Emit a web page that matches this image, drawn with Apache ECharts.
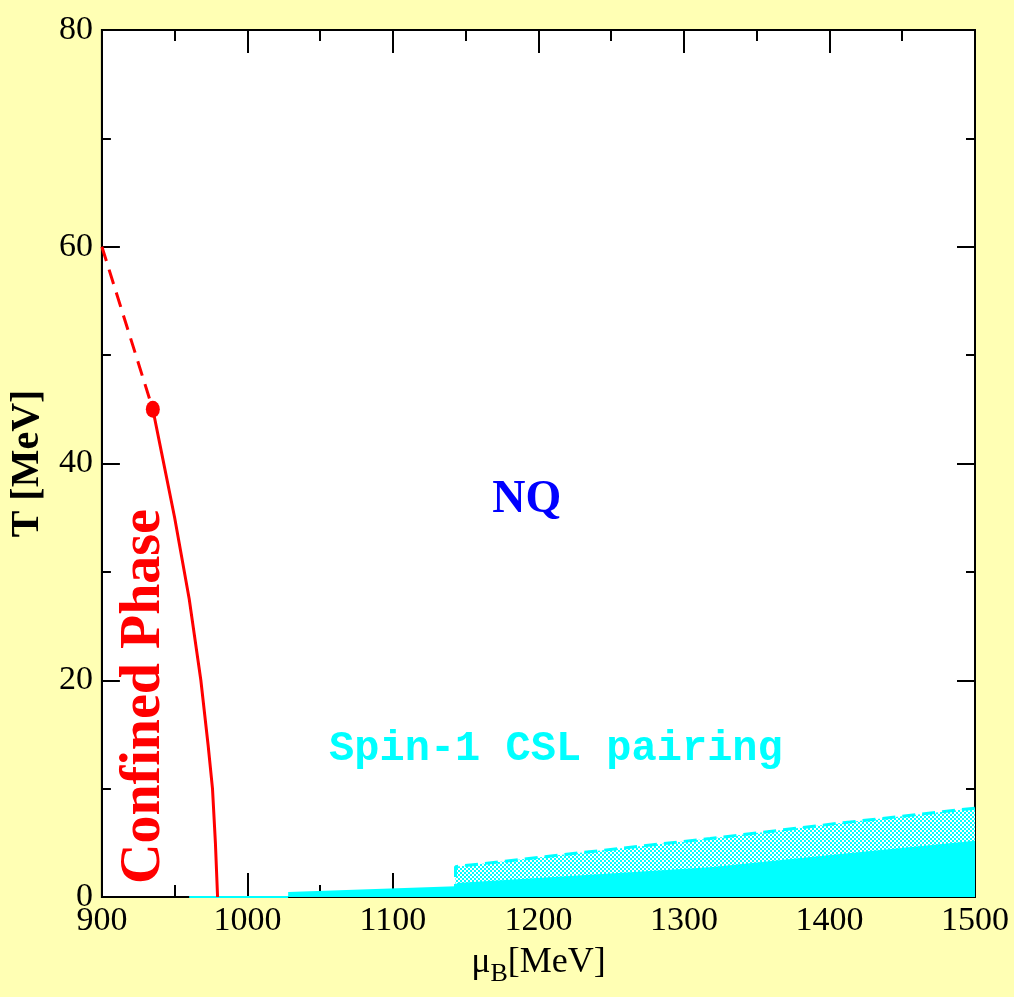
<!DOCTYPE html>
<html>
<head>
<meta charset="utf-8">
<script src="https://cdn.jsdelivr.net/npm/echarts@6/dist/echarts.min.js"></script>
<style>
  html, body { margin: 0; padding: 0; background: #ffffb4; }
  #chart { width: 1014px; height: 997px; }
</style>
</head>
<body>
<div id="chart"></div>
<script>
// axis ranges / ticks
var xMin = 900, xMax = 1500, xStep = 100;
var yMin = 0, yMax = 80, yStep = 20;

// deconfinement line: dashed part (crossover) and solid part (first order)
var redDashedMu = [900, 935];
var redDashedT  = [60, 45];
var redSolidMu  = [935, 941, 950, 960, 968, 973, 976, 978, 979.5];
var redSolidT   = [45, 41, 35, 27.5, 20, 14, 10, 5, 0];
var critPointMu = [935];
var critPointT  = [45];

// spin-1 CSL: thin line on the axis, filled region, dotted band
var cslLineMu = [960, 1028];
var cslLineT  = [0, 0];
var cslFillMu = [1028, 1028, 1143, 1144, 1230, 1318, 1406, 1500];
var cslFillT  = [0, 0.45, 1.0, 1.3, 2.0, 2.75, 3.95, 5.2];
var cslBandMu = [1143, 1143, 1230, 1318, 1406, 1500];
var cslBandT  = [0, 2.8, 4.1, 5.4, 6.8, 8.2];

// text labels in the plot
var notes = [
  { name: 'NQ', mu: 1192, T: 36.6 },
  { name: 'Spin-1 CSL pairing', mu: 1212, T: 13.6 },
  { name: 'Confined Phase', mu: 929, T: 18.5 }
];

function pairs(xs, ys) {
  return xs.map(function (x, i) { return [x, ys[i]]; });
}

// dotted fill pattern
var pat = document.createElement('canvas');
pat.width = 4; pat.height = 4;
var pctx = pat.getContext('2d');
pctx.fillStyle = '#ffffff';
pctx.fillRect(0, 0, 4, 4);
pctx.fillStyle = '#00ffff';
pctx.fillRect(0, 0, 2, 2);
pctx.fillRect(2, 2, 2, 2);

var cyan = '#00ffff';
var serif = 'Liberation Serif';

var noteStyles = {
  'NQ': { fontFamily: serif, fontWeight: 'bold', fontSize: 46, color: '#0000ff' },
  'Spin-1 CSL pairing': { fontFamily: 'Liberation Mono', fontWeight: 'bold', fontSize: 42, color: cyan },
  'Confined Phase': { fontFamily: serif, fontWeight: 'bold', fontSize: 56, color: '#ff0000', rotate: 90 }
};

var chart = echarts.init(document.getElementById('chart'));

var tickLab = { fontFamily: serif, fontSize: 34, color: '#000', formatter: function (v) { return String(v); } };

chart.setOption({
  backgroundColor: '#ffffb4',
  animation: false,
  grid: {
    left: 101, right: 39, top: 30, bottom: 100,
    show: true, backgroundColor: '#ffffff', borderColor: '#000', borderWidth: 2
  },
  xAxis: [{
    type: 'value', min: xMin, max: xMax, interval: xStep,
    name: '{m|μ}{s|B}{m|[MeV]}', nameLocation: 'middle', nameGap: 42,
    nameTextStyle: {
      rich: {
        m: { fontFamily: serif, fontSize: 36, color: '#000' },
        s: { fontFamily: serif, fontSize: 26, color: '#000', padding: [22, 0, 0, 0] }
      }
    },
    axisLine: { show: true, onZero: false, lineStyle: { color: '#000', width: 2 } },
    axisTick: { inside: true, length: 24, lineStyle: { color: '#000', width: 2 } },
    minorTick: { show: true, splitNumber: 2, length: 12, lineStyle: { color: '#000', width: 2 } },
    splitLine: { show: false },
    axisLabel: Object.assign({ margin: 7 }, tickLab)
  }, {
    type: 'value', position: 'top', min: xMin, max: xMax, interval: xStep,
    axisLine: { show: true, onZero: false, lineStyle: { color: '#000', width: 2 } },
    axisTick: { inside: true, length: 23, lineStyle: { color: '#000', width: 2 } },
    minorTick: { show: true, splitNumber: 2, length: 11, lineStyle: { color: '#000', width: 2 } },
    splitLine: { show: false },
    axisLabel: { show: false }
  }],
  yAxis: [{
    type: 'value', min: yMin, max: yMax, interval: yStep,
    name: 'T [MeV]', nameLocation: 'middle', nameGap: 48,
    nameTextStyle: { fontFamily: serif, fontWeight: 'bold', fontSize: 40, color: '#000' },
    axisLine: { show: true, onZero: false, lineStyle: { color: '#000', width: 2 } },
    axisTick: { inside: true, length: 18, lineStyle: { color: '#000', width: 2 } },
    minorTick: { show: true, splitNumber: 2, length: 9, lineStyle: { color: '#000', width: 2 } },
    splitLine: { show: false },
    axisLabel: Object.assign({ margin: 9 }, tickLab)
  }, {
    type: 'value', position: 'right', min: yMin, max: yMax, interval: yStep,
    axisLine: { show: true, onZero: false, lineStyle: { color: '#000', width: 2 } },
    axisTick: { inside: true, length: 18, lineStyle: { color: '#000', width: 2 } },
    minorTick: { show: true, splitNumber: 2, length: 9, lineStyle: { color: '#000', width: 2 } },
    splitLine: { show: false },
    axisLabel: { show: false }
  }],
  series: [
    {
      // dotted band, drawn down to the axis and covered by the solid fill
      type: 'line', data: pairs(cslBandMu, cslBandT), symbol: 'none', z: 2,
      lineStyle: { color: cyan, width: 3, type: [13, 7] },
      areaStyle: { color: { image: pat, repeat: 'repeat' }, opacity: 1 }
    },
    {
      type: 'line', data: pairs(cslFillMu, cslFillT), symbol: 'none', z: 3,
      lineStyle: { width: 0 },
      areaStyle: { color: cyan, opacity: 1 }
    },
    {
      type: 'line', data: pairs(cslLineMu, cslLineT), symbol: 'none', z: 3,
      lineStyle: { color: cyan, width: 2 }
    },
    {
      type: 'line', data: pairs(redDashedMu, redDashedT), symbol: 'none', z: 4,
      lineStyle: { color: '#ff0000', width: 3, type: [15, 9] }
    },
    {
      type: 'line', data: pairs(redSolidMu, redSolidT), symbol: 'none', z: 4,
      lineStyle: { color: '#ff0000', width: 3 }
    },
    {
      type: 'scatter', data: pairs(critPointMu, critPointT), z: 5,
      symbol: 'circle', symbolSize: [14, 17], itemStyle: { color: '#ff0000', opacity: 1 }
    },
    {
      type: 'scatter', z: 6, symbolSize: 0, silent: true,
      itemStyle: { opacity: 1 },
      data: notes.map(function (n) {
        return {
          value: [n.mu, n.T],
          label: Object.assign({ show: true, position: 'inside', formatter: n.name }, noteStyles[n.name])
        };
      })
    }
  ]
});
</script>
</body>
</html>
